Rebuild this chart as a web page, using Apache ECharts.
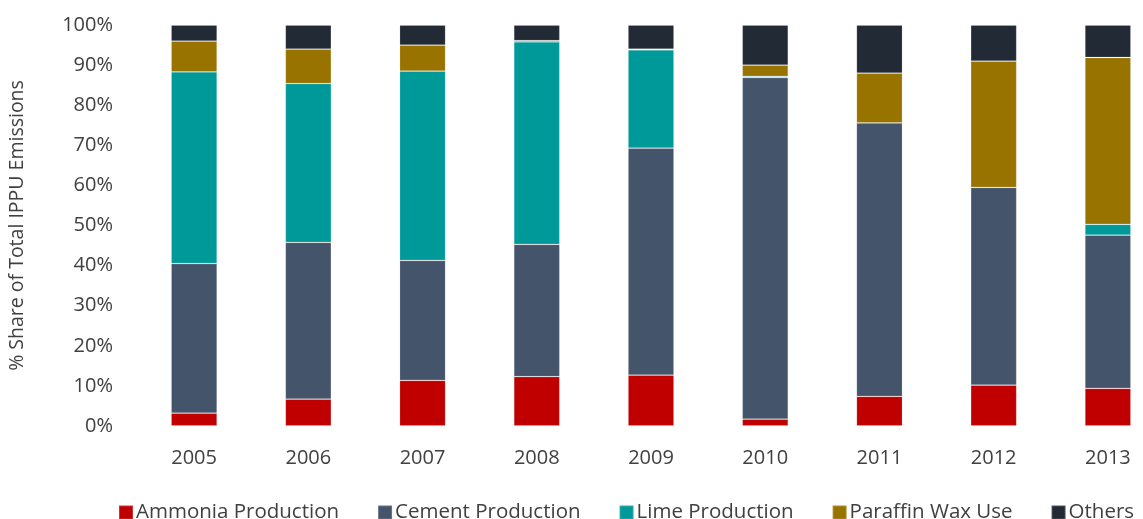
<!DOCTYPE html>
<html>
<head>
<meta charset="utf-8">
<script src="https://cdn.jsdelivr.net/npm/echarts@6/dist/echarts.min.js"></script>
<style>
  html, body { margin: 0; padding: 0; background: #fff; }
  #main { width: 1143px; height: 519px; }
</style>
</head>
<body>
<div id="main"></div>
<script>
// 年份
const years = ["2005", "2006", "2007", "2008", "2009", "2010", "2011", "2012", "2013"];
// 各排放源占比（%）
const ammonia = [3.2, 6.7, 11.4, 12.3, 12.7, 1.7, 7.4, 10.2, 9.4];
const cement = [37.3, 39.1, 29.9, 33.0, 56.6, 85.2, 68.2, 49.3, 38.2];
const lime = [47.8, 39.6, 47.2, 50.5, 24.5, 0.3, 0, 0, 2.7];
const paraffin = [7.7, 8.6, 6.5, 0.3, 0.2, 2.8, 12.4, 31.5, 41.6];
const others = [4.0, 6.0, 5.0, 3.9, 6.0, 10.0, 12.0, 9.0, 8.1];
const yTicks = [0, 10, 20, 30, 40, 50, 60, 70, 80, 90, 100];

const font = "'Open Sans', 'Noto Sans', sans-serif";
const textColor = "#404040";

const mychart = echarts.init(document.getElementById("main"));

const mkSeries = (name, data, color) => ({
  name: name,
  type: "bar",
  stack: "total",
  data: data,
  barWidth: 46,
  itemStyle: {
    color: color,
    borderColor: "rgba(255,255,255,0.2)",
    borderWidth: 0.8
  }
});

const option = {
  animation: false,
  textStyle: { fontFamily: font },
  // 绘图区右侧超出画布（原图如此）
  grid: { left: 137, width: 1028, top: 25, bottom: 93, outerBoundsMode: "none", containLabel: false },
  legend: {
    left: 113,
    top: 497,
    itemWidth: 14,
    itemHeight: 14,
    itemGap: 38,
    icon: "rect",
    textStyle: { fontFamily: font, fontSize: 20.5, color: textColor, padding: [0, 0, 0, -2] },
    data: ["Ammonia Production", "Cement Production", "Lime Production", "Paraffin Wax Use", "Others"]
  },
  xAxis: {
    type: "category",
    data: years,
    axisLine: { show: false },
    axisTick: { show: false },
    axisLabel: { color: textColor, fontSize: 20, margin: 22, fontFamily: font }
  },
  yAxis: {
    type: "value",
    min: yTicks[0],
    max: yTicks[yTicks.length - 1],
    interval: 10,
    name: "% Share of Total IPPU Emissions",
    nameLocation: "middle",
    nameGap: 110,
    nameTextStyle: { color: textColor, fontSize: 19.5, fontFamily: font },
    axisLine: { show: false },
    axisTick: { show: false },
    splitLine: { show: false },
    axisLabel: {
      color: textColor,
      fontSize: 20,
      margin: 24,
      fontFamily: font,
      formatter: (v) => v + "%"
    }
  },
  series: [
    mkSeries("Ammonia Production", ammonia, "#C00000"),
    mkSeries("Cement Production", cement, "#44546A"),
    mkSeries("Lime Production", lime, "#009999"),
    mkSeries("Paraffin Wax Use", paraffin, "#997300"),
    mkSeries("Others", others, "#222A35")
  ]
};

mychart.setOption(option);
</script>
</body>
</html>
